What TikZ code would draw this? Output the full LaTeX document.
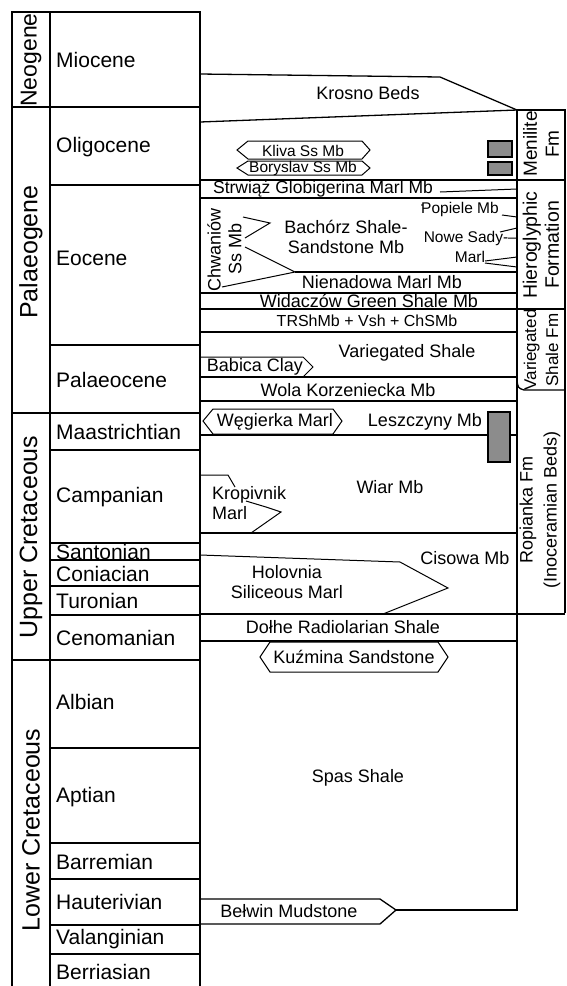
\documentclass[tikz,border=0pt]{standalone}
\usepackage{fontspec}
\setmainfont{Liberation Sans}
\begin{document}
\begin{tikzpicture}[x=1pt, y=-1pt,
    frame/.style={line width=1.9pt},
    bed/.style={line width=1.3pt},
    lens/.style={line width=1pt},
    core/.style={draw, line width=1.2pt, fill=black!45},
    epoch/.style={font=\fontsize{21}{24}\selectfont, anchor=west, inner sep=0pt},
    period/.style={font=\fontsize{25}{27}\selectfont, rotate=90, inner sep=0pt},
    fmcol/.style={font=\fontsize{19}{22}\selectfont, rotate=90, align=center, inner sep=0pt},
    unit/.style={font=\fontsize{18}{20}\selectfont, align=center, inner sep=0pt},
    smallunit/.style={font=\fontsize{15.5}{17}\selectfont, inner sep=0pt}]

    \useasboundingbox (0,0) rectangle (566,986);

    % Period and epoch columns
    \draw[frame] (12,986) -- (12,12) -- (200,12) -- (200,986);
    \draw[frame] (50,12) -- (50,986);
    \draw[frame] (12,107) -- (200,107) (12,413) -- (200,413) (12,660) -- (200,660);
    \draw[bed] (50,185) -- (200,185) (50,345) -- (200,345) (50,450) -- (200,450)
               (50,543) -- (200,543) (50,560) -- (200,560) (50,586) -- (200,586)
               (50,615) -- (200,615) (50,748) -- (200,748) (50,843) -- (200,843)
               (50,879) -- (200,879) (50,925) -- (200,925) (50,954) -- (200,954);

    % Period names
    \node[period, font=\fontsize{23}{25}\selectfont] (neogene) at (31,60) {Neogene};
    \node[period] (palaeogene) at (31,252) {Palaeogene};
    \node[period] (uppercret) at (31,537) {Upper Cretaceous};
    \node[period] (lowercret) at (31,830) {Lower Cretaceous};

    % Epoch and stage names
    \node[epoch] (miocene) at (56,60) {Miocene};
    \node[epoch] (oligocene) at (56,147) {Oligocene};
    \node[epoch] (eocene) at (56,258) {Eocene};
    \node[epoch] (palaeocene) at (56,380) {Palaeocene};
    \node[epoch] (maastrichtian) at (56,432) {Maastrichtian};
    \node[epoch] (campanian) at (56,497) {Campanian};
    \node[epoch] (santonian) at (56,552) {Santonian};
    \node[epoch] (coniacian) at (56,574) {Coniacian};
    \node[epoch] (turonian) at (56,601) {Turonian};
    \node[epoch] (cenomanian) at (56,638) {Cenomanian};
    \node[epoch] (albian) at (56,702) {Albian};
    \node[epoch] (aptian) at (56,797) {Aptian};
    \node[epoch] (barremian) at (56,862) {Barremian};
    \node[epoch] (hauterivian) at (56,902) {Hauterivian};
    \node[epoch] (valanginian) at (56,939) {Valanginian};
    \node[epoch] (berriasian) at (56,972) {Berriasian};

    % Formation column on the right
    \draw[frame] (517,110) -- (565,110) -- (565,613);
    \draw[frame] (517,110) -- (517,910) -- (396,910);
    \draw[bed] (200,180) -- (565,180) (200,309) -- (565,309) (200,614) -- (565,614);
    \draw[bed] (517,380) .. controls (518,388) .. (524,390) -- (565,390);
    \node[fmcol] (menilite) at (541,144) {Menilite\\Fm};
    \node[fmcol, font=\fontsize{19.5}{22}\selectfont] (hieroglyphic) at (541,245) {Hieroglyphic\\Formation};
    \node[fmcol, font=\fontsize{17}{22}\selectfont] (variegatedfm) at (541,350) {Variegated\\Shale Fm};
    \node[fmcol, font=\fontsize{18}{24}\selectfont] (ropianka) at (540,510) {Ropianka Fm\\(Inoceramian Beds)};

    % Krosno Beds wedge
    \draw[bed] (200,74) -- (440,77) -- (517,110);
    \draw[bed] (200,122) -- (517,110);
    \node[unit] (krosno) at (368,93) {Krosno Beds};

    % Oligocene sandstone members and cores
    \draw[lens] (237,150) -- (248,141) -- (362,141) -- (370,150) -- (362,159) -- (248,159) -- cycle;
    \draw[lens] (237,168) -- (248,161) -- (362,161) -- (370,168) -- (362,175) -- (248,175) -- cycle;
    \node[smallunit] (kliva) at (303,151) {Kliva Ss Mb};
    \node[smallunit] (boryslav) at (303,168) {Boryslav Ss Mb};
    \draw[core] (488,141) rectangle (512,157);
    \draw[core] (488,162) rectangle (512,175);

    % Eocene members
    \draw[bed] (200,198) -- (517,198);
    \draw[lens] (440,192) -- (517,189);
    \node[unit, font=\fontsize{17.5}{19}\selectfont] (strwiaz) at (323,189) {Strwiąż Globigerina Marl Mb};
    \draw[lens] (243,217) -- (270,223) -- (245,238);
    \draw[lens] (245,247) -- (295,272) -- (222,287);
    \node[unit, rotate=90] (chwaniow) at (214,250) {Chwaniów};
    \node[unit, rotate=90] (chwss) at (235,249) {Ss Mb};
    \node[unit] (bachorz) at (346,237) {Bachórz Shale-\\Sandstone Mb};
    \fill (422,205) circle (0.9);
    \node[smallunit] (popiele) at (460,209) {Popiele Mb};
    \draw[lens] (502,215) -- (517,217);
    \node[smallunit] (nowesady) at (466,238) {Nowe Sady-};
    \node[smallunit] (nowemarl) at (470,257) {Marl};
    \draw[lens] (500,232) -- (517,228) (508,238) -- (517,238);
    \draw[lens] (485,261) -- (517,257) (485,263) -- (517,267);
    \draw[bed] (295,272) -- (517,272);
    \node[unit] (nienadowa) at (382,282) {Nienadowa Marl Mb};
    \draw[bed] (200,293) -- (517,293);
    \node[unit] (widaczow) at (369,301) {Widaczów Green Shale Mb};
    \node[unit, font=\fontsize{16}{18}\selectfont] (trsh) at (367,321) {TRShMb + Vsh + ChSMb};

    % Variegated shale and Palaeocene members
    \draw[bed] (200,332) -- (517,332);
    \node[unit] (variegated) at (407,353) {Variegated Shale};
    \draw[lens] (200,357) -- (303,357) -- (313,367) -- (303,377);
    \node[unit] (babica) at (255,367) {Babica Clay};
    \draw[bed] (200,377) -- (517,377);
    \node[unit] (wola) at (348,390) {Wola Korzeniecka Mb};
    \draw[bed] (200,401) -- (517,401);

    % Ropianka members
    \draw[lens] (203,421) -- (213,409) -- (333,409) -- (342,421) -- (333,434) -- (213,434) -- cycle;
    \node[unit] (wegierka) at (275,422) {Węgierka Marl};
    \node[unit] (leszczyny) at (425,422) {Leszczyny Mb};
    \draw[bed] (200,435) -- (517,435);
    \draw[core] (488,412) rectangle (510,462);
    \node[unit] (wiar) at (390,487) {Wiar Mb};
    \draw[lens] (200,475) -- (228,475) -- (235,487);
    \draw[lens] (246,501) -- (266,507) -- (281,512) -- (251,533);
    \node[unit, align=left, anchor=west] (kropivnik) at (212,503) {Kropivnik\\Marl};
    \draw[bed] (200,533) -- (517,533);
    \draw[lens] (200,555) -- (400,562) -- (448,588) -- (383,614);
    \node[unit] (holovnia) at (287,582) {Holovnia\\Siliceous Marl};
    \node[unit] (cisowa) at (465,558) {Cisowa Mb};

    % Lower units
    \node[unit] (dolhe) at (343,627) {Dołhe Radiolarian Shale};
    \draw[bed] (200,641) -- (517,641);
    \draw[lens] (260,657) -- (270,642) -- (438,642) -- (448,657) -- (438,672) -- (270,672) -- cycle;
    \node[unit] (kuzmina) at (354,657) {Kuźmina Sandstone};
    \node[unit] (spas) at (358,778) {Spas Shale};
    \draw[bed] (200,899) -- (380,899) -- (396,910) -- (380,924) -- (200,924);
    \node[unit] (belwin) at (289,911) {Bełwin Mudstone};

\end{tikzpicture}
\end{document}
